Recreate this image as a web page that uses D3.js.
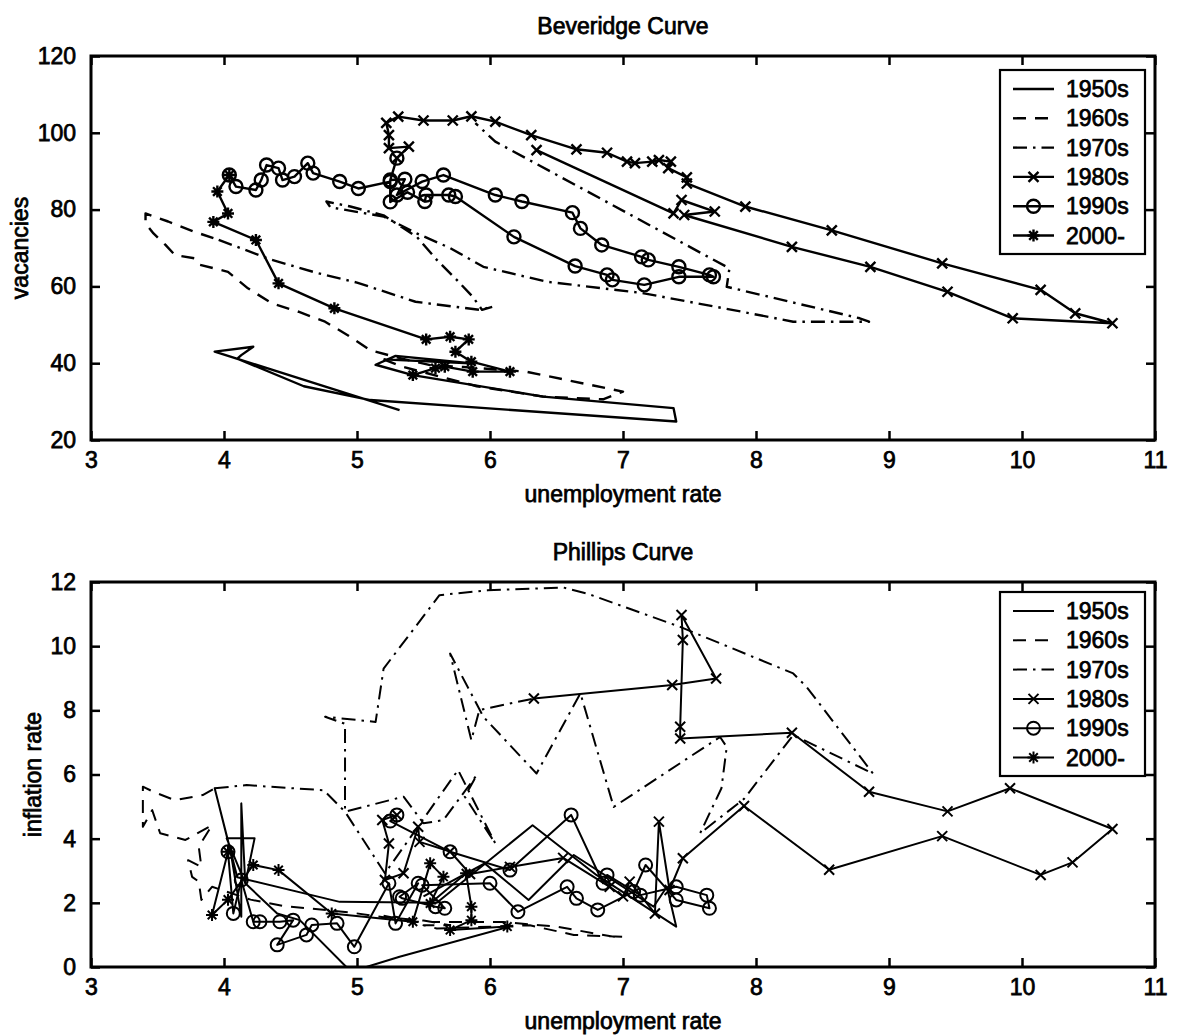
<!DOCTYPE html>
<html lang="en">
<head>
<meta charset="UTF-8">
<title>Beveridge and Phillips Curves</title>
<style>
  html, body { margin: 0; background: #fff; }
  svg { display: block; }
  text { font-family: "Liberation Sans", Arial, Helvetica, sans-serif; fill: #000; }
</style>
</head>
<body>
<script src="https://d3js.org/d3.v7.min.js"></script>
<script>
const decades = ["1950s", "1960s", "1970s", "1980s", "1990s", "2000-"];
const xTicks = [3, 4, 5, 6, 7, 8, 9, 10, 11];
const vacTicks = [20, 40, 60, 80, 100, 120];
const inflTicks = [0, 2, 4, 6, 8, 10, 12];

// Beveridge curve: [unemployment rate, vacancies]
const bev1950 = [[5.32,27.8],[3.93,43.0],[4.22,44.3],[4.13,42.1],[4.10,41.2],[4.60,34.0],[5.10,30.4],[7.40,24.8],[7.38,28.3],[6.40,31.3],[5.42,36.9],[5.14,39.6],[5.29,41.9],[5.85,40.0],[5.20,41.0]];
const bev1960 = [[5.20,41.0],[5.35,39.0],[5.90,34.0],[6.40,31.3],[6.85,30.6],[7.00,32.6],[6.27,37.8],[5.80,39.0],[5.55,39.5],[5.30,41.5],[5.10,43.4],[4.93,47.3],[4.76,50.8],[4.56,53.4],[4.36,55.6],[4.18,59.5],[4.03,63.8],[3.82,65.6],[3.78,67.3],[3.63,68.2],[3.56,70.8],[3.47,73.8],[3.41,76.4],[3.41,79.0],[3.58,76.9],[3.78,74.2],[3.96,72.1]];
const bev1970 = [[3.96,72.1],[4.13,69.9],[4.35,67.0],[4.70,63.5],[5.00,61.0],[5.44,56.0],[5.92,53.9],[6.02,54.7],[5.94,53.9],[5.87,57.3],[5.75,61.7],[5.60,66.9],[5.45,72.9],[5.20,78.5],[4.95,80.8],[4.77,82.1],[4.80,80.6],[5.20,78.2],[5.45,73.8],[5.70,70.0],[5.95,65.1],[6.43,61.2],[7.14,58.3],[7.82,53.9],[8.28,50.8],[8.85,50.8],[8.78,51.7],[7.78,59.9],[7.80,64.7],[6.04,97.7],[5.89,102.5]];
const bev1980 = [[6.35,95.5],[7.38,79.0],[7.44,82.5],[7.69,79.5],[7.46,78.6],[8.27,70.3],[8.86,65.1],[9.44,58.6],[9.93,51.7],[10.68,50.4],[10.40,53.0],[10.14,59.1],[9.40,66.0],[8.57,74.6],[7.92,80.8],[7.48,86.8],[7.48,88.4],[7.34,90.8],[7.36,92.5],[7.27,92.9],[7.22,92.5],[7.09,92.1],[7.03,92.5],[6.88,94.8],[6.65,95.7],[6.31,99.4],[6.04,102.9],[5.86,104.3],[5.72,103.2],[5.50,103.2],[5.31,104.2],[5.22,102.6],[5.24,99.4],[5.24,96.0],[5.39,96.4],[5.30,93.4]];
const bev1990 = [[5.30,93.4],[5.25,87.7],[5.36,87.9],[5.30,83.8],[5.49,87.3],[5.65,89.0],[6.04,83.8],[6.24,82.1],[6.62,79.2],[6.68,75.1],[6.84,70.8],[7.14,67.7],[7.19,66.9],[7.42,65.1],[7.65,63.0],[7.68,62.5],[7.42,62.5],[7.16,60.4],[6.92,61.7],[6.88,63.0],[6.64,65.3],[6.18,72.9],[5.74,83.4],[5.69,83.8],[5.52,83.8],[5.51,82.1],[5.38,84.5],[5.25,82.0],[5.25,87.3],[5.01,85.5],[4.87,87.3],[4.67,89.5],[4.63,92.1],[4.53,88.6],[4.44,87.7],[4.41,90.8],[4.32,91.6],[4.28,87.7],[4.24,85.1],[4.09,86.0],[4.04,89.0]];
const bev2000 = [[4.04,89.0],[3.95,84.7],[4.03,79.0],[3.92,76.8],[4.24,72.1],[4.41,60.8],[4.83,54.3],[5.52,46.2],[5.70,46.9],[5.84,46.2],[5.74,43.0],[5.86,40.4],[6.15,37.8],[5.87,37.8],[5.66,39.1],[5.59,38.7],[5.42,36.9]];

// Phillips curve: [unemployment rate, inflation rate]
const phil1950 = [[6.15,1.26],[5.32,0.32],[5.07,0.00],[4.92,0.00],[4.57,1.46],[4.40,1.67],[4.16,2.61],[4.02,4.01],[4.23,4.01],[4.16,2.61],[4.13,5.10],[4.13,1.57],[4.05,3.59],[3.93,5.57],[4.10,2.80],[4.87,2.03],[5.60,2.00],[6.32,4.42],[6.80,2.87],[7.40,1.26],[7.33,2.50],[7.23,1.88],[6.63,3.49],[6.29,2.09],[5.96,3.23],[5.50,2.20]];
const phil1960 = [[5.20,1.60],[5.45,1.40],[6.10,1.40],[6.50,1.26],[6.93,0.94],[7.00,0.94],[6.63,1.00],[6.30,1.30],[5.60,1.20],[5.50,1.30],[5.70,1.30],[5.50,1.45],[5.20,1.55],[4.95,1.70],[4.45,1.90],[4.20,2.10],[3.91,2.50],[3.83,2.09],[3.81,2.66],[3.76,2.81],[3.73,3.33],[3.83,3.12],[3.81,3.75],[3.91,4.42],[3.71,3.96],[3.52,4.17],[3.46,4.89],[3.39,4.37],[3.39,5.62],[3.47,5.46],[3.63,5.20],[3.84,5.36],[3.93,5.57]];
const phil1970 = [[3.93,5.57],[4.17,5.67],[4.52,5.57],[4.75,5.51],[4.91,4.84],[5.35,5.31],[5.50,4.48],[5.65,4.58],[5.90,5.98],[5.81,5.31],[6.04,3.85],[5.76,6.14],[5.21,2.92],[4.91,4.84],[4.91,7.58],[4.76,7.80],[5.14,7.64],[5.20,9.30],[5.62,11.59],[5.98,11.74],[6.55,11.83],[6.73,11.64],[7.43,10.60],[8.28,9.15],[8.38,8.73],[8.88,6.03],[8.28,7.23],[7.91,5.24],[7.58,4.17],[7.74,5.57],[7.78,6.86],[7.73,7.17],[6.93,4.99],[6.68,8.53],[6.35,6.03],[5.95,7.80],[5.70,9.77],[5.86,7.07],[5.92,8.01],[6.33,8.37]];
const phil1980 = [[6.33,8.37],[7.37,8.79],[7.70,8.99],[7.44,10.97],[7.45,10.19],[7.43,7.49],[7.43,7.12],[8.27,7.30],[8.85,5.46],[9.44,4.85],[9.91,5.57],[10.68,4.30],[10.38,3.26],[10.14,2.87],[9.40,4.08],[8.55,3.03],[7.91,5.02],[7.45,3.39],[7.35,2.40],[7.27,4.53],[7.24,1.67],[7.05,2.66],[7.00,2.20],[6.90,2.50],[6.55,3.40],[6.15,3.12],[5.85,2.90],[5.70,3.60],[5.47,3.90],[5.46,4.37],[5.35,2.92],[5.21,2.71],[5.24,3.85],[5.19,4.58],[5.30,4.74]];
const phil1990 = [[5.30,4.74],[5.25,4.55],[5.70,3.59],[6.15,3.02],[6.61,4.74],[6.85,2.61],[6.88,2.87],[7.13,2.24],[7.40,2.50],[7.63,2.24],[7.65,1.83],[7.40,2.09],[7.17,3.18],[7.08,2.35],[6.81,1.78],[6.65,2.14],[6.58,2.50],[6.21,1.72],[6.00,2.61],[5.49,2.55],[5.66,1.83],[5.59,1.88],[5.34,2.14],[5.32,2.19],[5.46,2.61],[5.29,1.36],[5.24,2.61],[4.98,0.63],[4.85,1.36],[4.66,1.31],[4.62,1.00],[4.40,0.69],[4.52,1.46],[4.42,1.41],[4.27,1.41],[4.22,1.41],[4.13,2.71],[4.07,1.67],[4.03,3.59]];
const phil2000 = [[4.03,3.59],[3.91,1.62],[4.03,2.10],[4.22,3.18],[4.41,3.02],[4.81,1.67],[5.42,1.41],[5.55,3.23],[5.65,2.81],[5.55,1.98],[5.82,2.92],[5.86,1.88],[5.86,1.46],[5.70,1.15],[6.13,1.26]];

const W = 1177, H = 1035;
const L = 91, R = 1155;
const FONT = 23;
const TEXT_STROKE = 0.75;

// line style and marker for each decade (same order as decades)
const styles = [
  { dash: null, marker: null },
  { dash: "13,9", marker: null },
  { dash: "14,6,2.5,6", marker: null },
  { dash: null, marker: "x" },
  { dash: null, marker: "o" },
  { dash: null, marker: "*" }
];

const svg = d3.select("body").append("svg")
  .attr("width", W)
  .attr("height", H);

const x = d3.scaleLinear().domain([3, 11]).range([L, R]);

function drawMarker(g, type, px, py, lw) {
  if (type === "o") {
    g.append("circle")
      .attr("cx", px).attr("cy", py).attr("r", 6.5)
      .attr("fill", "none").attr("stroke", "#000").attr("stroke-width", lw);
    return;
  }
  let d;
  if (type === "x") {
    const s = 5;
    d = `M${px - s},${py - s}L${px + s},${py + s}M${px + s},${py - s}L${px - s},${py + s}`;
  } else {
    const s = 6, t = 4.3;
    d = `M${px - s},${py}L${px + s},${py}M${px},${py - s}L${px},${py + s}` +
        `M${px - t},${py - t}L${px + t},${py + t}M${px + t},${py - t}L${px - t},${py + t}`;
  }
  g.append("path").attr("d", d)
    .attr("fill", "none").attr("stroke", "#000").attr("stroke-width", lw);
}

function label(g, txt) {
  return g.append("text")
    .attr("font-size", FONT)
    .attr("stroke", "#000").attr("stroke-width", TEXT_STROKE)
    .text(txt);
}

function drawPanel(cfg) {
  const g = svg.append("g");
  const y = d3.scaleLinear().domain(cfg.yDomain).range([cfg.bottom, cfg.top]);

  svg.append("clipPath").attr("id", "clip" + cfg.id)
    .append("rect")
    .attr("x", L).attr("y", cfg.top)
    .attr("width", R - L).attr("height", cfg.bottom - cfg.top);

  const line = d3.line().x(d => x(d[0])).y(d => y(d[1]));
  const plot = g.append("g").attr("clip-path", `url(#clip${cfg.id})`);

  cfg.series.forEach((data, i) => {
    const st = styles[i];
    plot.append("path")
      .datum(data)
      .attr("d", line)
      .attr("fill", "none")
      .attr("stroke", "#000")
      .attr("stroke-width", cfg.lw)
      .attr("stroke-linejoin", "round")
      .attr("stroke-dasharray", st.dash);
    if (st.marker) {
      data.forEach(d => drawMarker(plot, st.marker, x(d[0]), y(d[1]), cfg.lw));
    }
  });

  // axes, ticks pointing inward on all four sides
  const axes = [
    g.append("g").attr("transform", `translate(0,${cfg.bottom})`)
      .call(d3.axisBottom(x).tickValues(xTicks).tickSize(-9).tickSizeOuter(0).tickPadding(12).tickFormat(d3.format("d"))),
    g.append("g").attr("transform", `translate(0,${cfg.top})`)
      .call(d3.axisTop(x).tickValues(xTicks).tickSize(-9).tickSizeOuter(0).tickFormat("")),
    g.append("g").attr("transform", `translate(${L},0)`)
      .call(d3.axisLeft(y).tickValues(cfg.yTicks).tickSize(-9).tickSizeOuter(0).tickPadding(15).tickFormat(d3.format("d"))),
    g.append("g").attr("transform", `translate(${R},0)`)
      .call(d3.axisRight(y).tickValues(cfg.yTicks).tickSize(-9).tickSizeOuter(0).tickFormat(""))
  ];
  axes.forEach(a => {
    a.attr("font-size", FONT).attr("font-family", null);
    a.select(".domain").remove();
    a.selectAll(".tick line").attr("stroke", "#000").attr("stroke-width", 2.5);
    a.selectAll(".tick text").attr("fill", "#000").attr("stroke", "#000").attr("stroke-width", TEXT_STROKE);
  });

  g.append("rect")
    .attr("x", L).attr("y", cfg.top)
    .attr("width", R - L).attr("height", cfg.bottom - cfg.top)
    .attr("fill", "none").attr("stroke", "#000").attr("stroke-width", 3);

  // title and labels
  const midX = (L + R) / 2;
  label(g, cfg.title)
    .attr("x", midX).attr("y", cfg.top - 30).attr("dy", "0.35em")
    .attr("text-anchor", "middle");
  label(g, "unemployment rate")
    .attr("x", midX).attr("y", cfg.bottom + 54).attr("dy", "0.35em")
    .attr("text-anchor", "middle");
  label(g, cfg.yLabel)
    .attr("transform", `translate(${cfg.ylabelX},${(cfg.top + cfg.bottom) / 2}) rotate(-90)`)
    .attr("dy", "0.35em")
    .attr("text-anchor", "middle");

  // legend
  const lx = 1000, lw = 145, ly = cfg.top + cfg.legendOffset, lh = 184;
  const lg = g.append("g");
  lg.append("rect")
    .attr("x", lx).attr("y", ly).attr("width", lw).attr("height", lh)
    .attr("fill", "#fff").attr("stroke", "#000").attr("stroke-width", 2.2);
  decades.forEach((name, i) => {
    const ey = ly + 19 + i * 29.3;
    const st = styles[i];
    lg.append("line")
      .attr("x1", lx + 13).attr("x2", lx + 54)
      .attr("y1", ey).attr("y2", ey)
      .attr("stroke", "#000").attr("stroke-width", cfg.lw)
      .attr("stroke-dasharray", st.dash);
    if (st.marker) drawMarker(lg, st.marker, lx + 33.5, ey, cfg.lw);
    label(lg, name)
      .attr("x", lx + 66).attr("y", ey).attr("dy", "0.35em");
  });
}

drawPanel({
  id: "bev",
  top: 56, bottom: 440,
  yDomain: [20, 120], yTicks: vacTicks,
  series: [bev1950, bev1960, bev1970, bev1980, bev1990, bev2000],
  title: "Beveridge Curve", yLabel: "vacancies", ylabelX: 20,
  legendOffset: 14, lw: 2.4
});

drawPanel({
  id: "phil",
  top: 582, bottom: 967,
  yDomain: [0, 12], yTicks: inflTicks,
  series: [phil1950, phil1960, phil1970, phil1980, phil1990, phil2000],
  title: "Phillips Curve", yLabel: "inflation rate", ylabelX: 33,
  legendOffset: 10, lw: 2
});
</script>
</body>
</html>
